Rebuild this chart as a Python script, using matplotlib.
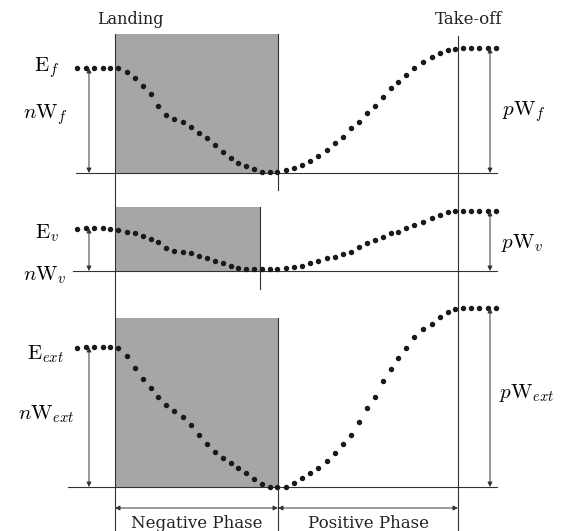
import matplotlib
matplotlib.use("Agg")
import matplotlib.pyplot as plt
from matplotlib.patches import Rectangle

plt.rcParams["mathtext.fontset"] = "cm"
plt.rcParams["font.family"] = "DejaVu Serif"

# dot positions (pixel-like units, y grows downward)
t = [77, 86, 94, 103, 110, 118, 127, 135, 143, 151, 158, 166, 174, 183, 191, 199,
     207, 215, 223, 231, 238, 246, 254, 262, 270, 277, 286, 294, 302, 310, 318, 327,
     335, 343, 351, 359, 367, 375, 383, 391, 398, 406, 414, 423, 432, 440, 448, 455,
     463, 471, 479, 488, 496]
e_f = [68, 68, 68, 68, 68, 68, 72, 78, 86, 94, 106, 115, 119, 122, 127, 133,
       138, 145, 152, 158, 163, 166, 169, 172, 172, 172, 170, 168, 165, 161, 156, 150,
       143, 137, 128, 122, 113, 106, 97, 88, 82, 75, 68, 62, 57, 53, 50, 49,
       48, 48, 48, 48, 48]
e_v = [229, 228, 228, 228, 229, 230, 232, 233, 236, 239, 242, 248, 251, 252, 253, 256,
       258, 261, 263, 266, 268, 269, 269, 269, 269, 269, 268, 267, 266, 263, 261, 258,
       257, 254, 252, 247, 243, 240, 237, 233, 232, 228, 225, 222, 218, 215, 212, 211,
       211, 211, 211, 211, 211]
e_ext = [348, 347, 347, 347, 347, 348, 356, 368, 379, 388, 397, 405, 411, 417, 425, 435,
         444, 452, 458, 463, 468, 473, 479, 484, 487, 487, 487, 483, 478, 473, 468, 461,
         453, 444, 435, 422, 408, 397, 381, 369, 358, 348, 337, 329, 324, 317, 312, 309,
         308, 308, 308, 308, 308]

# panel layout
baselines = [173, 271, 487]
start_lv = [68, 228, 347]
end_lv = [48, 211, 308]
base_x0 = [76, 73, 68]
box_top = [34, 207, 318]
box_right = [278, 260, 278]
landing_x = 115
takeoff_x = 458
neg_lbls = [r"$n\mathrm{W}_f$", r"$n\mathrm{W}_v$", r"$n\mathrm{W}_{ext}$"]
pos_lbls = [r"$p\mathrm{W}_f$", r"$p\mathrm{W}_v$", r"$p\mathrm{W}_{ext}$"]
e_lbls = [r"$\mathrm{E}_f$", r"$\mathrm{E}_v$", r"$\mathrm{E}_{ext}$"]

ink = "#333333"
fig = plt.figure(figsize=(5.62, 5.31), dpi=100)
ax = fig.add_axes([0, 0, 1, 1])
ax.set_xlim(0, 562)
ax.set_ylim(531, 0)
ax.axis("off")

arrow = dict(arrowstyle="<|-|>", color=ink, lw=0.7, mutation_scale=7,
             shrinkA=0, shrinkB=0)

for i, curve in enumerate([e_f, e_v, e_ext]):
    ax.add_patch(Rectangle((landing_x, box_top[i]), box_right[i] - landing_x,
                           baselines[i] - box_top[i], facecolor="#a6a6a6",
                           edgecolor="none", zorder=1))
    ax.plot([base_x0[i], 497], [baselines[i]] * 2, color=ink, lw=0.8, zorder=2)
    ax.plot(t, curve, ls="none", marker="o", ms=2.9, color="#1a1a1a", zorder=3)
    ax.annotate("", xy=(89, start_lv[i]), xytext=(89, baselines[i]), arrowprops=arrow)
    ax.annotate("", xy=(490, end_lv[i]), xytext=(490, baselines[i]), arrowprops=arrow)

# vertical phase lines
ax.plot([landing_x] * 2, [34, 531], color=ink, lw=0.8)
ax.plot([278] * 2, [34, 190], color=ink, lw=0.8)
ax.plot([260] * 2, [207, 289], color=ink, lw=0.8)
ax.plot([278] * 2, [318, 531], color=ink, lw=0.8)
ax.plot([takeoff_x] * 2, [36, 531], color=ink, lw=0.8)

# labels
fs = 15
ax.text(47, 68, e_lbls[0], fontsize=fs, ha="center", va="center")
ax.text(45, 115, neg_lbls[0], fontsize=fs, ha="center", va="center")
ax.text(524, 112, pos_lbls[0], fontsize=fs, ha="center", va="center")
ax.text(47, 233, e_lbls[1], fontsize=fs, ha="center", va="center")
ax.text(45, 275, neg_lbls[1], fontsize=fs, ha="center", va="center")
ax.text(522, 243, pos_lbls[1], fontsize=fs, ha="center", va="center")
ax.text(46, 354, e_lbls[2], fontsize=fs, ha="center", va="center")
ax.text(46, 414, neg_lbls[2], fontsize=fs, ha="center", va="center")
ax.text(527, 393, pos_lbls[2], fontsize=fs, ha="center", va="center")

ax.text(130, 20, "Landing", fontsize=11.5, ha="center", va="center", color="#222")
ax.text(469, 20, "Take-off", fontsize=12, ha="center", va="center", color="#222")

ax.annotate("", xy=(landing_x, 508), xytext=(278, 508), arrowprops=arrow)
ax.annotate("", xy=(278, 508), xytext=(takeoff_x, 508), arrowprops=arrow)
ax.text(197, 523, "Negative Phase", fontsize=12, ha="center", va="center", color="#222")
ax.text(369, 523, "Positive Phase", fontsize=12, ha="center", va="center", color="#222")

fig.savefig("out.png", dpi=100)
